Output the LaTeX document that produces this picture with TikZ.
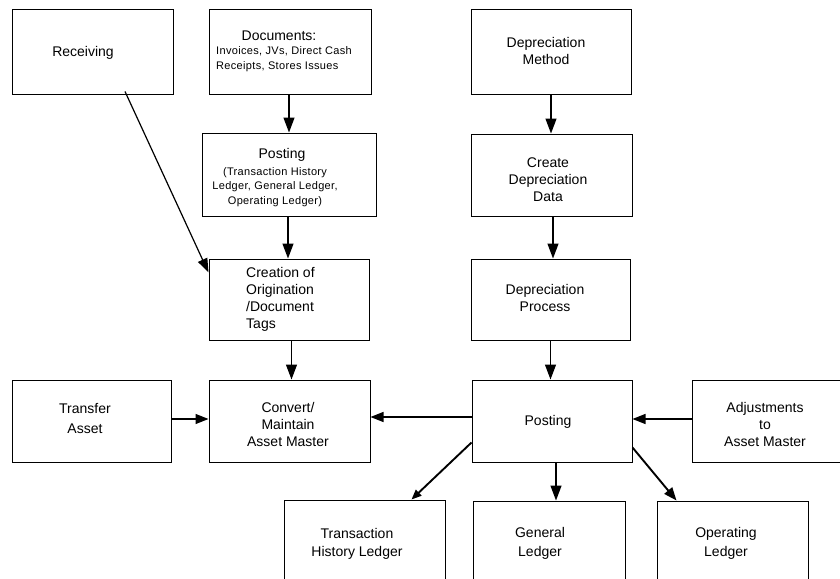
\documentclass[tikz,border=0pt]{standalone}
\usepackage{fontspec}
\setmainfont{Liberation Sans}
\usetikzlibrary{arrows.meta}
\begin{document}
\begin{tikzpicture}[x=1pt,y=-1pt,
  box/.style={draw,line width=1pt,inner sep=0pt},
  txt/.style={font=\fontsize{14}{17}\selectfont,align=center,inner sep=0pt},
  note/.style={font=\fontsize{11}{14.5}\selectfont\addfontfeature{LetterSpace=3},inner sep=0pt},
  arr/.style={line width=1.3pt,-{Triangle[length=15pt,width=11pt]}},
  harr/.style={line width=1.3pt,-{Triangle[length=13pt,width=10pt]}},
  darr/.style={line width=1.9pt,-{Triangle[length=13pt,width=10pt]}}]

\fill[white] (0,0) rectangle (840,578);
\useasboundingbox (0,0) rectangle (840,578);
\clip (0,0) rectangle (840,578);

% boxes (centre, width, height)
\node[box,minimum width=161pt,minimum height=84pt] (recv)  at (93,52) {};
\node[box,minimum width=162pt,minimum height=84pt] (docs)  at (290,52) {};
\node[box,minimum width=160pt,minimum height=84pt] (depm)  at (551,52) {};
\node[box,minimum width=174pt,minimum height=83pt] (postl) at (289,174.5) {};
\node[box,minimum width=161pt,minimum height=82pt] (cdd)   at (551.5,175) {};
\node[box,minimum width=160pt,minimum height=81pt] (orig)  at (289,299.5) {};
\node[box,minimum width=159pt,minimum height=81pt] (depp)  at (550.5,299.5) {};
\node[box,minimum width=159pt,minimum height=82pt] (trans) at (91.5,421) {};
\node[box,minimum width=161pt,minimum height=82pt] (conv)  at (289.5,421) {};
\node[box,minimum width=160pt,minimum height=82pt] (postr) at (552,421) {};
\node[box,minimum width=160pt,minimum height=82pt] (adj)   at (772,421) {};
\node[box,minimum width=161pt,minimum height=100pt] (thl)  at (364.5,550) {};
\node[box,minimum width=152pt,minimum height=100pt] (gl)   at (549,551) {};
\node[box,minimum width=151pt,minimum height=100pt] (ol)   at (732.5,551) {};

% labels
\node[txt] (t-recv)  at (83,53)  {Receiving};
\node[txt] (t-docs)  at (279,36) {Documents:};
\node[note,anchor=west,align=left] (t-docs2) at (216,59) {Invoices, JVs, Direct Cash\\Receipts, Stores Issues};
\node[txt] (t-depm)  at (546,51) {Depreciation\\Method};
\node[txt] (t-postl) at (282,155) {Posting};
\node[note,align=center] (t-postl2) at (275,187) {(Transaction History\\Ledger, General Ledger,\\Operating Ledger)};
\node[txt] (t-cdd)   at (548,180) {Create\\Depreciation\\Data};
\node[txt,anchor=west,align=left] (t-orig) at (246,299.5) {Creation of\\Origination\\/Document\\Tags};
\node[txt] (t-depp)  at (545,298) {Depreciation\\Process};
\node[txt,font=\fontsize{14}{20}\selectfont] (t-trans) at (85,418) {Transfer\\Asset};
\node[txt] (t-conv)  at (288,424) {Convert/\\Maintain\\Asset Master};
\node[txt] (t-postr) at (548,422) {Posting};
\node[txt] (t-adj)   at (765,424) {Adjustments\\to\\Asset Master};
\node[txt,font=\fontsize{14}{18}\selectfont] (t-thl) at (357,544) {Transaction\\History Ledger};
\node[txt,font=\fontsize{14}{19}\selectfont] (t-gl)  at (540,543.5) {General\\Ledger};
\node[txt,font=\fontsize{14}{19}\selectfont] (t-ol)  at (726,543.5) {Operating\\Ledger};

% connectors
\draw[arr] (postl.north |- docs.south) -- (postl.north);
\draw[arr] ([xshift=-1pt]orig.north |- postl.south) -- ([xshift=-1pt]orig.north);
\draw[line width=1.2pt,-{Triangle[length=14pt,width=10pt]}]
  ([xshift=32pt,yshift=3pt]recv.south) -- ([yshift=-14pt]orig.north west);
\draw[arr] ([xshift=2pt]conv.north |- orig.south) -- ([xshift=2pt]conv.north);
\draw[harr] ([yshift=2pt]trans.east) -- ([yshift=2pt]conv.west);
\draw[harr] ([yshift=4pt]postr.west) -- ([yshift=4pt]conv.east);
\draw[harr] ([yshift=2pt]adj.west) -- ([yshift=2pt]postr.east);
\draw[arr] (depm.south) -- (depm.south |- cdd.north);
\draw[arr] ([xshift=1.5pt]cdd.south) -- ([xshift=1.5pt]cdd.south |- depp.north);
\draw[arr] ([xshift=0pt]depp.south) -- (depp.south |- postr.north);
\draw[line width=1.9pt,-{Triangle[length=10pt,width=8pt]}]
  ([yshift=-63pt]postr.north west) -- ([xshift=128pt]thl.north west);
\draw[arr] ([xshift=4pt]postr.south) -- ([xshift=4pt]postr.south |- gl.north);
\draw[darr] ([yshift=-68pt]postr.north east) -- ([xshift=20pt]ol.north west);
\end{tikzpicture}
\end{document}
